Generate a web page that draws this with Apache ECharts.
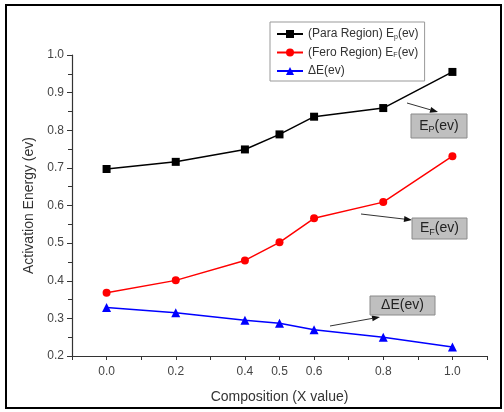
<!DOCTYPE html>
<html><head><meta charset="utf-8">
<script src="https://cdn.jsdelivr.net/npm/echarts@6/dist/echarts.min.js"></script>
<style>html,body{margin:0;padding:0;background:#fff}#c{width:504px;height:412px}</style>
</head><body><div id="c"></div>
<script>
var xValues = [0.0, 0.2, 0.4, 0.5, 0.6, 0.8, 1.0];
var paraEp = [0.697, 0.716, 0.749, 0.789, 0.836, 0.859, 0.955];
var feroEf = [0.368, 0.401, 0.454, 0.502, 0.566, 0.609, 0.731];
var deltaE = [0.329, 0.315, 0.295, 0.287, 0.270, 0.250, 0.224];
var xTickLabels = ['0.0', '0.2', '0.4', '0.5', '0.6', '0.8', '1.0'];

function pairs(ys){ return xValues.map(function(x,i){return [x, ys[i]];}); }

var FONT = '"Liberation Sans", Arial, sans-serif';

function arrow(x1,y1,x2,y2){
  var a = Math.atan2(y2-y1, x2-x1), L = 8, W = 3;
  var bx = x2 - L*Math.cos(a), by = y2 - L*Math.sin(a);
  var px = -Math.sin(a)*W, py = Math.cos(a)*W;
  return [
    {type:'line', shape:{x1:x1,y1:y1,x2:bx,y2:by}, style:{stroke:'#333', lineWidth:1}},
    {type:'polygon', shape:{points:[[x2,y2],[bx+px,by+py],[bx-px,by-py]]}, style:{fill:'#111'}}
  ];
}
function labelBox(x,y,w,h,text){
  return [
    {type:'rect', shape:{x:x,y:y,width:w,height:h}, style:{fill:'#bfbfbf', stroke:'#8a8a8a', lineWidth:1}},
    {type:'text', x:x+w/2, y:y+h/2, style:{text:text, fontFamily:FONT, fontSize:14, fill:'#222', align:'center', verticalAlign:'middle',
      rich:{s:{fontSize:9, fill:'#222', padding:[8,0,0,0], fontFamily:FONT}, n:{fontSize:14, fill:'#222', fontFamily:FONT}}}}
  ];
}

var graphics = [
  {type:'rect', shape:{x:6,y:5,width:495,height:403}, style:{fill:'none', stroke:'#000', lineWidth:2}, z:100}
].concat(
  arrow(407,103,438,112), arrow(361,214,412,220), arrow(330,326,380,317),
  labelBox(411,114,56,24,'{n|E}{s|P}{n|(ev)}'),
  labelBox(412,218,55,21,'{n|E}{s|F}{n|(ev)}'),
  labelBox(370,296,65,19,'{n|ΔE(ev)}')
);

var chart = echarts.init(document.getElementById('c'));
chart.setOption({
  backgroundColor:'#fff',
  animation:false,
  grid:{left:72, top:55, right:17, bottom:56},
  legend:{
    orient:'vertical', left:270, top:22, width:150,
    backgroundColor:'#fff', borderColor:'#999', borderWidth:1,
    padding:[6,6,4,6], itemGap:6, itemWidth:26, itemHeight:10,
    textStyle:{fontFamily:FONT, fontSize:12, color:'#333',
      rich:{s:{fontSize:7, padding:[6,0,0,0], color:'#333', fontFamily:FONT}, n:{fontSize:12, color:'#333', fontFamily:FONT}}},
    formatter:function(name){
      if(name.indexOf('Para')>=0) return '{n|(Para Region) E}{s|p}{n|(ev)}';
      if(name.indexOf('Fero')>=0) return '{n|(Fero Region) E}{s|F}{n|(ev)}';
      return '{n|ΔE(ev)}';
    },
    data:['Para','Fero','Delta']
  },
  xAxis:{
    type:'value', min:-0.1, max:1.1, interval:0.1,
    name:'Composition (X value)', nameLocation:'middle', nameGap:34,
    nameTextStyle:{fontFamily:FONT, fontSize:14, color:'#333'},
    axisLine:{onZero:false, lineStyle:{color:'#333', width:1.2}},
    axisTick:{show:true, length:4, inside:false, lineStyle:{color:'#333'}},
    splitLine:{show:false},
    axisLabel:{margin:10, fontFamily:FONT, fontSize:12, color:'#444',
      formatter:function(v){
        var s = (Math.round(v*10)/10).toFixed(1);
        return xTickLabels.indexOf(s)>=0 ? s : '';
      }}
  },
  yAxis:{
    type:'value', min:0.2, max:1.0, interval:0.1,
    name:'Activation Energy (ev)', nameLocation:'middle', nameGap:33,
    nameTextStyle:{fontFamily:FONT, fontSize:14, color:'#333'},
    axisLine:{show:true, onZero:false, lineStyle:{color:'#333', width:1.2}},
    axisTick:{show:true, length:5, lineStyle:{color:'#333'}},
    minorTick:{show:true, splitNumber:2, length:4, lineStyle:{color:'#333'}},
    splitLine:{show:false},
    axisLabel:{margin:8, fontFamily:FONT, fontSize:12, color:'#444',
      formatter:function(v){return v.toFixed(1);}}
  },
  series:[
    {name:'Para', type:'line', data:pairs(paraEp), symbol:'rect', symbolSize:8,
      itemStyle:{color:'#000'}, lineStyle:{color:'#000', width:1.5}},
    {name:'Fero', type:'line', data:pairs(feroEf), symbol:'circle', symbolSize:8,
      itemStyle:{color:'#ff0000'}, lineStyle:{color:'#ff0000', width:1.5}},
    {name:'Delta', type:'line', data:pairs(deltaE), symbol:'triangle', symbolSize:9,
      itemStyle:{color:'#0000ff'}, lineStyle:{color:'#0000ff', width:1.5}}
  ],
  graphic:graphics
});
</script></body></html>
